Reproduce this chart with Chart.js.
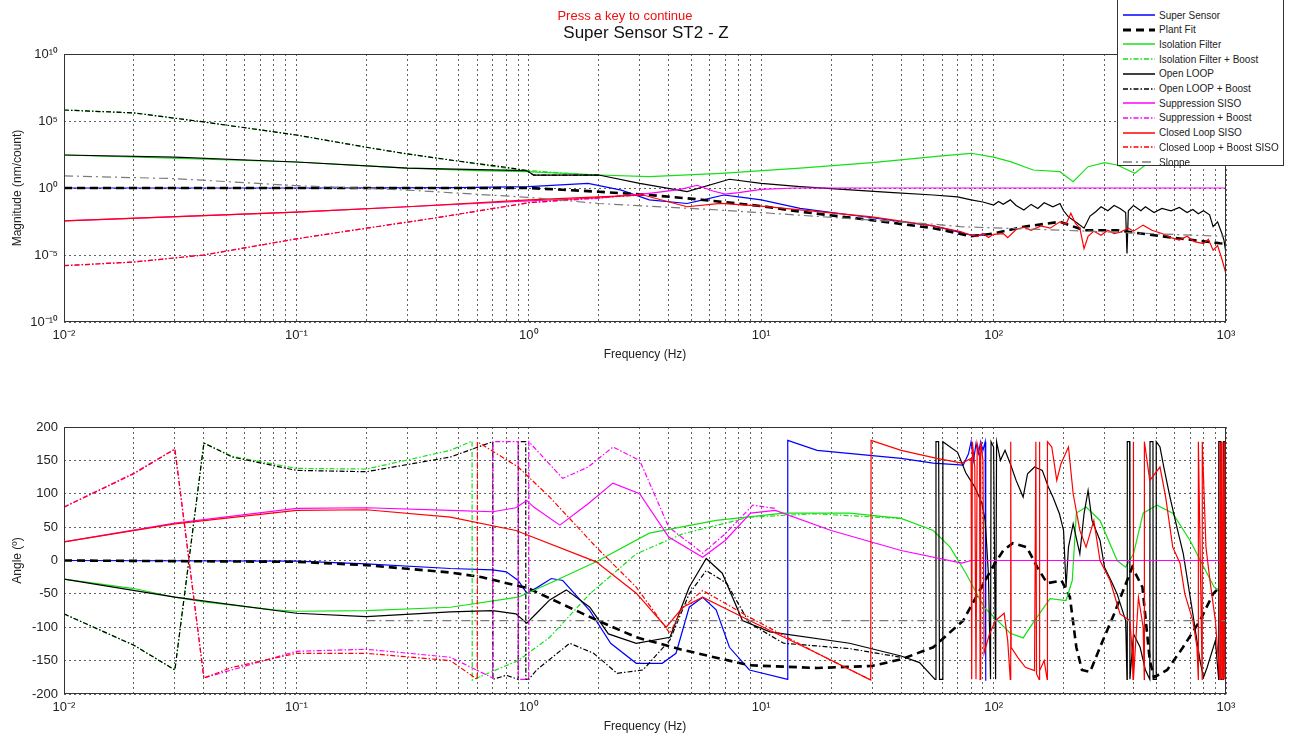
<!DOCTYPE html>
<html>
<head>
<meta charset="utf-8">
<title>Super Sensor ST2 - Z</title>
<script src="https://cdn.jsdelivr.net/npm/chart.js@4.4.0/dist/chart.umd.min.js"></script>
<style>
  body { margin: 0; background: #fff; font-family: 'Liberation Sans', Arial, sans-serif; }
  #page { position: relative; width: 1291px; height: 738px; overflow: hidden; }
  canvas { position: absolute; left: 0; }
  #magChart { top: 0; }
  #phaseChart { top: 380px; }
  .caption { position: absolute; white-space: nowrap; transform: translate(-50%, -50%); }
  #pressKey { left: 625px; top: 15px; font-size: 13px; color: #f01010; }
  #plotTitle { left: 646px; top: 33px; font-size: 17px; color: #111; }
  #legend { position: absolute; left: 1117px; top: -6px; width: 167px; height: 172px; background: #fff; border: 1px solid #333; box-sizing: border-box; z-index: 2; }
  .row { position: absolute; left: 0; height: 14px; display: flex; align-items: center; font-size: 10px; color: #222; }
  .row svg { margin-left: 4px; margin-right: 3px; }
</style>
</head>
<body>
<div id="page">
  <canvas id="magChart" width="1291" height="370"></canvas>
  <canvas id="phaseChart" width="1291" height="358"></canvas>
  <div id="pressKey" class="caption">Press a key to continue</div>
  <div id="plotTitle" class="caption">Super Sensor ST2 - Z</div>
  <div id="legend"></div>
</div>
<script>
// axis ticks
const xDecades = [0.01, 0.1, 1, 10, 100, 1000];
const xDecadeLabels = ['10\u207B\u00B2', '10\u207B\u00B9', '10\u2070', '10\u00B9', '10\u00B2', '10\u00B3'];
const magTicks = [1e-10, 1e-5, 1, 1e5, 1e10];
const magTickLabels = ['10\u207B\u00B9\u2070', '10\u207B\u2075', '10\u2070', '10\u2075', '10\u00B9\u2070'];

const seriesNames = ['Super Sensor', 'Plant Fit', 'Isolation Filter', 'Isolation Filter + Boost',
  'Open LOOP', 'Open LOOP + Boost', 'Suppression SISO', 'Suppression + Boost',
  'Closed Loop SISO', 'Closed Loop + Boost SISO', 'Sloppe'];

// ---- magnitude (nm/count), [frequency Hz, value] ----
const superSensorMag = [[0.01,1],[0.1,1],[0.5,1.05],[1,1.25],[1.8,2.2],[2.5,0.7],[3.3,0.13],[4.8,0.07],[5.5,0.12],[6.9,0.3],[8,0.22],[10,0.13],[14.7,0.03],[30,6e-3],[55,1.5e-3],[80,3e-4],[92,3e-4]];
const plantFitMag = [[0.01,1],[0.5,1],[1,1],[2,0.53],[3.3,0.3],[4.8,0.17],[6.7,0.095],[10,0.045],[14.7,0.017],[30,4e-3],[55,1e-3],[80,2.5e-4],[100,4e-4],[135,1.3e-3],[193,3e-3],[245,7e-4],[340,7e-4],[530,2.5e-4],[720,1.3e-4],[940,7.5e-5],[1000,7e-5]];
const isoFilterMag = [[0.01,290],[0.1,87],[0.3,30],[0.6,20],[0.98,16.5],[2,9.3],[3.3,7],[6.7,12.5],[14.7,30],[30,78],[60,250],[80,390],[100,200],[118,92],[148,22],[193,16.5],[220,3],[255,39],[300,78],[340,52],[405,12.5],[450,52],[520,100],[1000,150]];
const isoBoostMag = [[0.01,6.6e5],[0.02,4e5],[0.04,8.5e4],[0.1,9e3],[0.2,1.1e3],[0.3,350],[0.5,100],[0.8,30],[1,20],[1.5,12],[2,9.3]];
const openLoopMag = [[0.01,290],[0.03,200],[0.1,87],[0.3,30],[0.98,20],[1.05,9],[2,9.3],[3,2.2],[4.8,0.53],[7.3,4.5],[10,2.2],[14.7,1.25],[37,0.45],[55,0.3],[70,0.22],[80,0.13],[90,0.09],[100,0.054],[105,0.1],[110,0.06],[118,0.13],[125,0.05],[135,0.023],[145,0.06],[155,0.03],[165,0.08],[180,0.04],[193,0.07],[200,0.02],[210,0.007],[225,0.003],[245,0.001],[260,0.008],[275,0.017],[290,0.04],[310,0.02],[330,0.05],[350,0.03],[370,0.015],[375,1.3e-5],[380,0.02],[400,0.05],[430,0.02],[450,0.04],[490,0.015],[530,0.03],[580,0.02],[630,0.035],[680,0.015],[720,0.025],[760,0.012],[800,0.02],[850,0.01],[880,1.3e-3],[920,3e-3],[960,4e-4],[980,1.3e-4],[1000,1.3e-5]];
const olBoostMag = [[0.01,6.6e5],[0.02,4e5],[0.04,8.5e4],[0.1,9e3],[0.2,1.1e3],[0.3,350],[0.5,100],[0.8,35],[0.98,20],[1.05,9],[2,9.3]];
const suppressionMag = [[0.01,3.5e-3],[0.1,0.016],[0.3,0.04],[1,0.11],[2,0.18],[3.3,0.4],[4.5,0.8],[5.3,1.6],[6.2,0.6],[7,0.35],[8,0.45],[10,0.8],[14,1],[1000,1]];
const suppBoostMag = [[0.01,1.6e-6],[0.02,3e-6],[0.04,1e-5],[0.1,1.6e-4],[0.2,1e-3],[0.4,6e-3],[1,0.08],[2,0.17],[3.3,0.4]];
const closedLoopMag = [[0.01,3.5e-3],[0.1,0.016],[0.3,0.04],[1,0.13],[2,0.22],[3.1,0.3],[4.8,0.04],[6.7,0.07],[10,0.045],[14.7,0.023],[30,7e-3],[55,1.5e-3],[72,5.5e-4],[80,3e-4],[85,2.5e-4],[90,4e-4],[95,2e-4],[100,3.5e-4],[110,4e-4],[115,2e-4],[125,8e-4],[135,1.2e-3],[145,7e-4],[160,1.5e-3],[175,1e-3],[193,3e-3],[205,2e-3],[215,0.013],[225,2.3e-3],[235,1e-3],[245,3e-5],[255,2.5e-4],[270,6e-4],[290,3e-4],[310,7e-4],[330,4e-4],[350,5e-4],[380,1e-3],[400,6e-4],[440,1.7e-3],[480,7e-4],[530,4e-4],[580,2e-4],[630,1.3e-4],[680,2.5e-4],[730,1e-4],[800,7e-5],[840,1.5e-4],[880,2.3e-5],[920,5e-5],[960,5e-6],[1000,4e-7]];
const clBoostMag = [[0.01,1.6e-6],[0.02,3e-6],[0.04,1e-5],[0.1,1.6e-4],[0.2,1e-3],[0.4,6e-3],[1,0.08],[2,0.2],[3.1,0.3]];
const sloppeMag = [[0.01,8],[0.03,5],[0.1,1.5],[0.3,0.7],[1,0.2],[2,0.07],[6,0.025],[11,0.013],[55,2e-3],[72,1.3e-3],[200,7e-4],[720,3e-4],[1000,2.5e-4]];

// ---- phase (deg), [frequency Hz, angle] ----
const superSensorPhase = [[0.01,0],[0.1,-1],[0.2,-5],[0.46,-12],[0.7,-14],[0.8,-17],[0.9,-30],[0.98,-49],[1.08,-41],[1.25,-27],[1.4,-30],[1.83,-75],[2.25,-124],[2.9,-154],[3.75,-154],[4.3,-139],[4.9,-70],[5.6,-55],[6.4,-74],[7.3,-130],[8.9,-164],[13,-178],[13.01,180],[17.4,165],[40,153],[55,146],[74,143],[78,160],[80,178],[82,150],[84,175],[86,160],[88,178],[90,165],[92,178],[92.5,-180]];
const plantFitPhase = [[0.01,0],[0.1,-2],[0.2,-7],[0.46,-18],[0.63,-25],[1,-42],[1.95,-89],[2.9,-115],[4.6,-134],[8.9,-157],[17.4,-161],[30,-158],[40,-148],[55,-130],[74,-90],[84,-55],[99,-10],[110,15],[121,26],[139,20],[154,-10],[170,-34],[196,-30],[213,-55],[227,-130],[240,-164],[260,-167],[287,-130],[330,-80],[395,-10],[437,-40],[470,-150],[490,-175],[558,-164],[653,-130],[773,-90],[880,-50],[1000,-30]];
const isoFilterPhase = [[0.01,-28],[0.02,-42],[0.03,-55],[0.04,-62],[0.08,-74],[0.1,-76],[0.2,-75],[0.46,-70],[0.9,-55],[1.23,-34],[1.95,-2],[3.3,41],[6.4,60],[12.5,71],[24,71],[40,63],[55,45],[65,20],[76,-19],[91,-70],[118,-109],[134,-116],[150,-90],[175,-57],[205,-60],[218,-30],[227,71],[250,80],[287,60],[340,0],[370,-10],[400,10],[440,71],[505,83],[590,71],[700,30],[890,-40],[1000,-50]];
const isoBoostPhase = [[0.01,-80],[0.02,-127],[0.03,-164],[0.04,176],[0.053,156],[0.1,138],[0.2,137],[0.46,165],[0.57,179],[0.571,-179],[0.9,-150],[1.23,-115],[1.83,-50],[2.9,10],[4.6,40],[8.9,65],[17,70],[40,63]];
const openLoopPhase = [[0.01,-28],[0.03,-55],[0.1,-79],[0.2,-84],[0.46,-77],[0.7,-75],[0.88,-80],[0.98,-94],[1.08,-79],[1.23,-59],[1.45,-44],[1.83,-70],[2.2,-110],[2.9,-124],[4.05,-115],[4.9,-40],[5.8,3],[6.8,-19],[8.3,-90],[10.9,-107],[24,-124],[40,-143],[48,-153],[56,-178],[56.5,178],[58,178],[58.5,-178],[60,-178],[60.5,178],[70,162],[76,131],[83,110],[89,86],[92,60],[95,-20],[97,-178],[97.5,178],[100,170],[102,-178],[103,178],[107,150],[112,165],[118,145],[125,120],[134,95],[140,130],[150,140],[162,135],[172,110],[180,95],[192,70],[200,45],[205,-40],[210,20],[220,55],[235,10],[245,70],[255,105],[265,60],[287,30],[300,-10],[320,-30],[340,-50],[370,-90],[375,-178],[376,178],[385,178],[386,-178],[400,-110],[427,-130],[450,-164],[470,-178],[471,178],[485,178],[486,-178],[500,-178],[501,178],[520,170],[540,140],[574,95],[610,55],[655,10],[720,-80],[773,-150],[800,-175],[830,-160],[900,-120],[930,-178],[931,178],[950,178],[951,-178],[975,-178],[976,178],[1000,178]];
const olBoostPhase = [[0.01,-80],[0.02,-127],[0.03,-164],[0.04,176],[0.053,155],[0.1,135],[0.2,133],[0.46,155],[0.7,178],[0.701,-178],[0.8,-172],[0.9,-178],[0.901,178],[0.97,178],[0.971,-178],[1.0,-178],[1.08,-164],[1.5,-124],[1.9,-139],[2.4,-169],[3.1,-164],[4.05,-119],[4.9,-50],[5.8,-15],[7.1,-34],[8.9,-94],[12.5,-124],[24,-132],[40,-145]];
const suppressionPhase = [[0.01,28],[0.03,56],[0.1,78],[0.2,79],[0.46,75],[0.7,73],[0.88,79],[0.98,90],[1.05,80],[1.36,53],[1.8,85],[2.3,116],[3,100],[4,35],[5.6,5],[7,30],[9,71],[11.5,75],[20,45],[40,15],[73,-4],[80,0],[1000,0]];
const suppBoostPhase = [[0.01,80],[0.02,131],[0.03,167],[0.04,-176],[0.1,-136],[0.2,-133],[0.46,-145],[0.7,-176],[0.701,178],[0.9,178],[0.901,-178],[1.0,-178],[1.001,178],[1.05,170],[1.4,123],[1.8,140],[2.3,170],[3,150],[4,50],[5.6,11],[7,40],[9.2,83],[11.5,78]];
const closedLoopPhase = [[0.01,28],[0.03,55],[0.1,75],[0.2,76],[0.46,65],[0.88,45],[1.95,-2],[2.9,-49],[3.9,-100],[4.6,-70],[5.6,-55],[8.9,-90],[17.4,-139],[29.6,-179],[29.7,180],[40,165],[57,153],[73,146],[80,153],[80.5,-178],[81,178],[83,140],[84,-178],[85,175],[87,160],[87.5,-178],[88,178],[90,150],[91,-139],[96,-110],[102,-90],[111,-79],[115,-120],[118,-178],[118.5,178],[119,-130],[127,-145],[137,-160],[150,-165],[152,178],[153,-170],[157,-178],[157.5,178],[158,-165],[165,-150],[170,-178],[170.5,178],[178,170],[187,120],[195,145],[210,170],[220,100],[235,45],[250,20],[270,60],[287,0],[317,-30],[350,-80],[386,-90],[395,-139],[398,-178],[398.5,178],[401,-178],[420,-55],[440,-100],[445,-178],[445.5,178],[470,120],[520,140],[550,95],[590,20],[634,-4],[665,-50],[720,-90],[750,-130],[760,-178],[760.5,178],[790,-178],[790.5,178],[820,20],[853,-30],[900,-90],[940,-178],[941,178],[950,-178],[955,178],[965,-178],[970,178],[980,-178],[985,178],[993,-178],[1000,178]];
const clBoostPhase = [[0.01,80],[0.02,130],[0.03,167],[0.04,-176],[0.053,-160],[0.1,-139],[0.2,-139],[0.46,-150],[0.6,-178],[0.601,178],[0.9,140],[1.23,95],[1.95,20],[2.9,-40],[4.05,-109],[4.6,-70],[5.6,-45],[8.9,-85],[17.4,-139],[29.6,-179]];
const sloppePhase = [[0.2,-90],[1000,-90]];

const magSeries = [superSensorMag, plantFitMag, isoFilterMag, isoBoostMag, openLoopMag, olBoostMag,
  suppressionMag, suppBoostMag, closedLoopMag, clBoostMag, sloppeMag];
const phaseSeries = [superSensorPhase, plantFitPhase, isoFilterPhase, isoBoostPhase, openLoopPhase, olBoostPhase,
  suppressionPhase, suppBoostPhase, closedLoopPhase, clBoostPhase, sloppePhase];

// line styles, same order as seriesNames
const dashDot = [5, 2, 1.5, 2];
const seriesColors = ['#0000ff', '#000000', '#16e016', '#16e016', '#000000', '#000000',
  '#ff00ff', '#ff00ff', '#ff0000', '#ff0000', '#7a7a7a'];
const seriesWidths = [1.2, 2.6, 1.2, 1.2, 1.2, 1.2, 1.2, 1.2, 1.2, 1.2, 1.2];
const seriesDashes = [[], [8, 5], [], dashDot, [], dashDot, [], dashDot, [], dashDot, [9, 4, 2, 4]];

Chart.defaults.font.family = "'Liberation Sans', Arial, sans-serif";
Chart.defaults.color = '#222';

// x grid at 1..9 x each decade
const xGridValues = [];
xDecades.slice(0, -1).forEach(d => { for (let k = 1; k <= 9; k++) xGridValues.push(d * k); });
xGridValues.push(1000);

const gridColor = 'rgba(30,30,30,0.7)';

// MATLAB style box round the axes
const frame = {
  id: 'frame',
  afterDraw(chart) {
    const { ctx, chartArea: a } = chart;
    ctx.save();
    ctx.strokeStyle = '#333';
    ctx.lineWidth = 1;
    ctx.strokeRect(Math.round(a.left) + 0.5, Math.round(a.top) + 0.5,
      Math.round(a.right - a.left) - 1, Math.round(a.bottom - a.top) - 1);
    ctx.restore();
  }
};

function freqAxis() {
  return {
    type: 'logarithmic',
    min: 0.01,
    max: 1000,
    afterBuildTicks: s => { s.ticks = xGridValues.map(v => ({ value: v })); },
    afterFit: s => { s.height = 44; },
    ticks: {
      autoSkip: false, maxRotation: 0, padding: 6, font: { size: 13 },
      callback: v => { const i = xDecades.indexOf(v); return i < 0 ? '' : xDecadeLabels[i]; }
    },
    grid: { color: gridColor, drawTicks: false },
    border: { display: false, dash: [2, 3] },
    title: { display: true, text: 'Frequency (Hz)', font: { size: 12 }, padding: { top: 4, bottom: 4 } }
  };
}

function buildDatasets(list) {
  return list.map((pts, i) => ({
    label: seriesNames[i],
    data: pts.map(([x, y]) => ({ x, y })),
    borderColor: seriesColors[i],
    backgroundColor: seriesColors[i],
    borderWidth: seriesWidths[i],
    borderDash: seriesDashes[i],
    pointRadius: 0,
    showLine: true,
    fill: false,
    tension: 0,
    order: seriesNames.length - i
  }));
}

function commonOptions(yAxis, padTop, padBottom) {
  return {
    responsive: false,
    animation: false,
    devicePixelRatio: 1,
    layout: { padding: { left: 0, right: 65, top: padTop, bottom: padBottom } },
    plugins: { legend: { display: false }, tooltip: { enabled: false } },
    scales: { x: freqAxis(), y: yAxis }
  };
}

new Chart(document.getElementById('magChart'), {
  type: 'scatter',
  data: { datasets: buildDatasets(magSeries) },
  options: commonOptions({
    type: 'logarithmic',
    min: 1e-10,
    max: 1e10,
    afterBuildTicks: s => { s.ticks = magTicks.map(v => ({ value: v })); },
    afterFit: s => { s.width = 64; },
    ticks: {
      autoSkip: false, padding: 6, font: { size: 13 },
      callback: v => { const i = magTicks.indexOf(v); return i < 0 ? '' : magTickLabels[i]; }
    },
    grid: { color: gridColor, drawTicks: false },
    border: { display: false, dash: [2, 3] },
    title: { display: true, text: 'Magnitude (nm/count)', font: { size: 12 }, padding: { top: 10, bottom: 0 } }
  }, 54, 4),
  plugins: [frame]
});

new Chart(document.getElementById('phaseChart'), {
  type: 'scatter',
  data: { datasets: buildDatasets(phaseSeries) },
  options: commonOptions({
    type: 'linear',
    min: -200,
    max: 200,
    afterFit: s => { s.width = 64; },
    ticks: { stepSize: 50, padding: 6, font: { size: 13 } },
    grid: { color: gridColor, drawTicks: false },
    border: { display: false, dash: [2, 3] },
    title: { display: true, text: 'Angle (\u00BA)', font: { size: 12 }, padding: { top: 10, bottom: 0 } }
  }, 47, 0),
  plugins: [frame]
});

// legend box, drawn from the same style table
const legend = document.getElementById('legend');
seriesNames.forEach((name, i) => {
  const row = document.createElement('div');
  row.className = 'row';
  row.style.top = (13 + i * 14.7) + 'px';
  const dash = seriesDashes[i].length ? seriesDashes[i].join(',') : 'none';
  row.innerHTML = '<svg width="34" height="8"><line x1="1" y1="4" x2="33" y2="4" stroke="' + seriesColors[i] +
    '" stroke-width="' + (seriesWidths[i] + 0.3) + '" stroke-dasharray="' + dash + '"/></svg>';
  const label = document.createElement('span');
  label.textContent = name;
  row.appendChild(label);
  legend.appendChild(row);
});
</script>
</body>
</html>
